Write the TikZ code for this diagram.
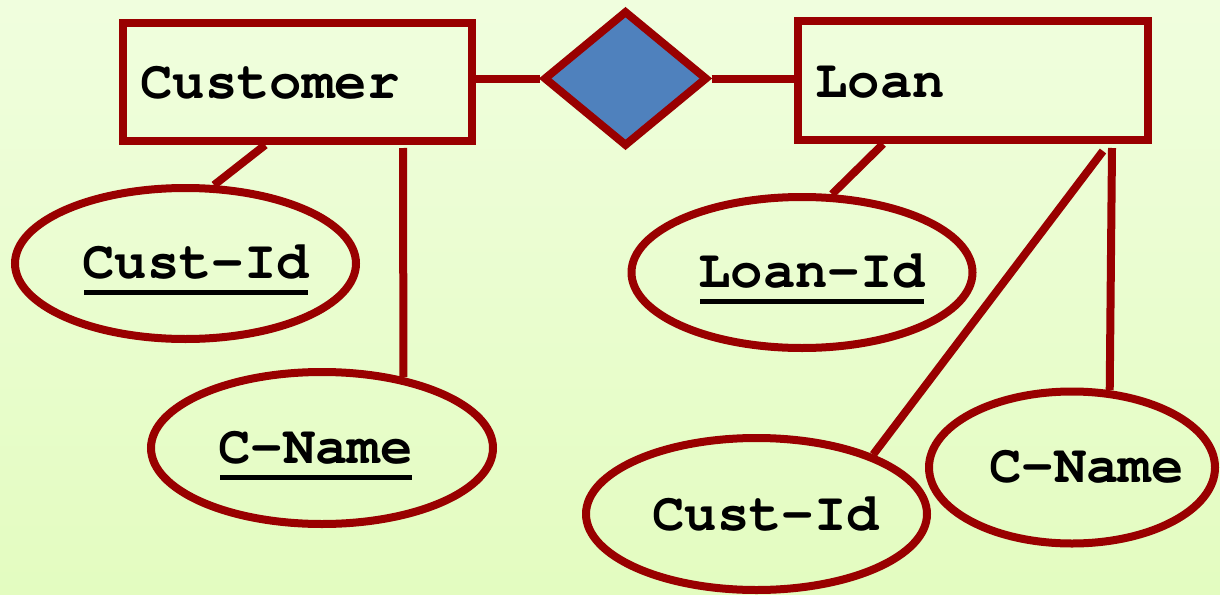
\documentclass[tikz,border=0pt]{standalone}
\usepackage{fontspec}
\setmonofont{texgyrecursor}[Extension=.otf, UprightFont=*-regular, BoldFont=*-bold]
\usetikzlibrary{shapes.geometric,calc}

\definecolor{bgtop}{RGB}{240,254,222}
\definecolor{bgbot}{RGB}{227,252,192}
\definecolor{erred}{RGB}{153,0,0}
\definecolor{relblue}{RGB}{79,129,189}

\tikzset{
  entity/.style={draw=erred, line width=8pt, rectangle, inner sep=0pt},
  attrib/.style={draw=erred, line width=8pt, ellipse, inner sep=0pt},
  relation/.style={draw=erred, fill=relblue, line width=8pt, diamond, inner sep=0pt,
                   minimum width=164pt, minimum height=136pt},
  link/.style={draw=erred, line width=8pt},
  lbl/.style={inner sep=0pt, anchor=base west, text=black,
              font=\ttfamily\bfseries\fontsize{54}{60}\selectfont},
  keyline/.style={draw=black, line width=5pt},
}

\begin{document}
\begin{tikzpicture}[x=1pt, y=-1pt]
  % page and background
  \useasboundingbox (0,0) rectangle (1220,594);
  \fill[top color=bgtop, bottom color=bgbot] (0,0) rectangle (1220,594);

  % entity sets
  \node[entity, minimum width=349pt, minimum height=118pt] (customer) at (297.3,82) {};
  \node[entity, minimum width=349.6pt, minimum height=119pt] (loan) at (972.8,80.5) {};
  \node[lbl] (customer-t) at (140,98) {Customer};
  \node[lbl] (loan-t) at (815,97) {Loan};

  % relationship set
  \node[relation] (rel) at (625.5,78.5) {};

  % attributes
  \node[attrib, minimum width=341pt, minimum height=151pt] (cid) at (185.5,263.5) {};
  \node[attrib, minimum width=342pt, minimum height=152pt] (cname) at (322,448) {};
  \node[attrib, minimum width=341pt, minimum height=151pt] (lid) at (802,272.5) {};
  \node[attrib, minimum width=341pt, minimum height=152pt] (cid2) at (756.5,514) {};
  \node[attrib, minimum width=286pt, minimum height=152pt] (cname2) at (1072,467.5) {};

  \node[lbl] (cid-t) at (82,278) {Cust-Id};
  \node[lbl] (cname-t) at (218,463) {C-Name};
  \node[lbl] (lid-t) at (698,287) {Loan-Id};
  \node[lbl] (cid2-t) at (652,530) {Cust-Id};
  \node[lbl] (cname2-t) at (989,482) {C-Name};

  % key attributes are underlined
  \foreach \t in {cid-t, cname-t, lid-t}
    \draw[keyline] ($(\t.base west)+(2,14)$) -- ($(\t.base east)+(-1,14)$);

  % relationship connectors
  \draw[link] (rel.west) -- (rel.west -| customer.east);
  \draw[link] (rel.east) -- (rel.east -| loan.west);

  % attribute connectors
  \coordinate (cname-top) at (403,148);
  \coordinate (cid2-top) at (1103,151);
  \coordinate (cname2-top) at (1112,148);
  \draw[link] ($(customer.south west)!0.41!(customer.south east)$) -- (cid.70);
  \draw[link] (cname-top) -- (cname.41);
  \draw[link] ($(loan.south west)!0.249!(loan.south east)$) -- (lid.69);
  \draw[link] (cid2-top) -- (cid2.27);
  \draw[link] (cname2-top) -- (cname2.64);
\end{tikzpicture}
\end{document}
